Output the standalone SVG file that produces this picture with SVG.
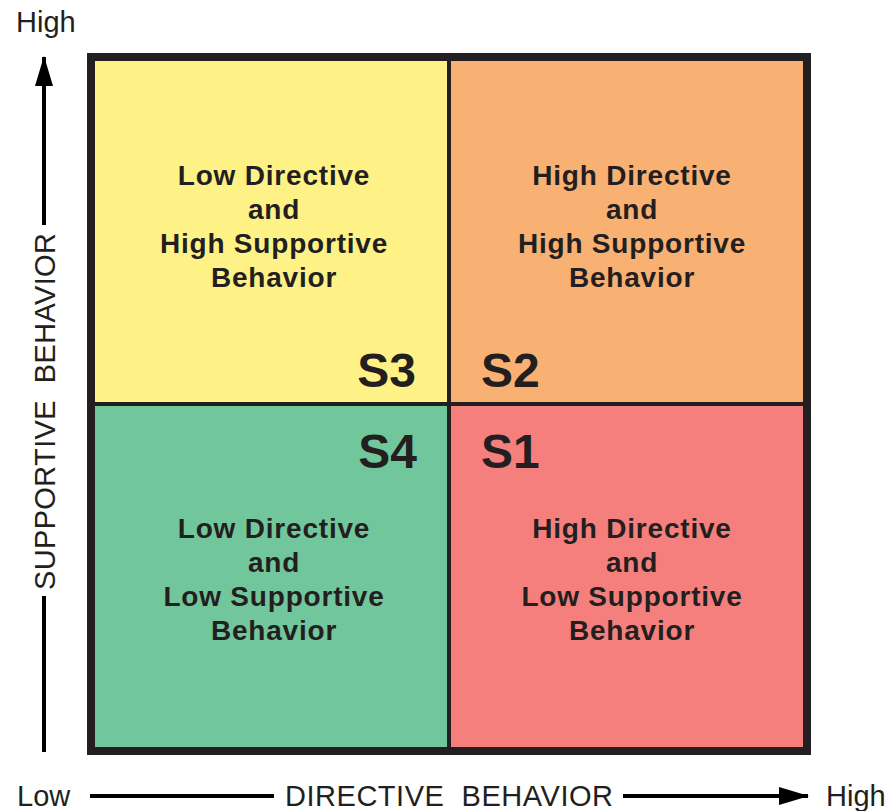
<svg xmlns="http://www.w3.org/2000/svg" width="886" height="811" viewBox="0 0 886 811">
<style>
.cell{font-family:"Liberation Sans",Arial,sans-serif;font-weight:bold;font-size:28px;fill:#231F20;text-anchor:middle;letter-spacing:0.8px}
.tag{font-family:"Liberation Sans",Arial,sans-serif;font-weight:bold;font-size:48px;fill:#231F20}
.axis{font-family:"Liberation Sans",Arial,sans-serif;font-size:29px;fill:#231F20}
.ln{stroke:#000;stroke-width:4;fill:none}
</style>
<defs>
<marker id="ah" markerWidth="30" markerHeight="18" refX="29" refY="9" orient="auto" markerUnits="userSpaceOnUse">
<path d="M0,0 L30,9 L0,18 Z" fill="#000"/>
</marker>
</defs>
<rect width="886" height="811" fill="#fff"/>
<g id="S3">
<rect x="91" y="57" width="358" height="347" fill="#FEF287"/>
<text class="cell" x="274" y="185">Low Directive</text>
<text class="cell" x="274" y="219">and</text>
<text class="cell" x="274" y="253">High Supportive</text>
<text class="cell" x="274" y="287">Behavior</text>
<text class="tag" x="416" y="387" text-anchor="end">S3</text>
</g>
<g id="S2">
<rect x="449" y="57" width="358" height="347" fill="#F9B073"/>
<text class="cell" x="632" y="185">High Directive</text>
<text class="cell" x="632" y="219">and</text>
<text class="cell" x="632" y="253">High Supportive</text>
<text class="cell" x="632" y="287">Behavior</text>
<text class="tag" x="481" y="387">S2</text>
</g>
<g id="S4">
<rect x="91" y="404" width="358" height="347" fill="#72C69B"/>
<text class="cell" x="274" y="538">Low Directive</text>
<text class="cell" x="274" y="572">and</text>
<text class="cell" x="274" y="606">Low Supportive</text>
<text class="cell" x="274" y="640">Behavior</text>
<text class="tag" x="417" y="468" text-anchor="end">S4</text>
</g>
<g id="S1">
<rect x="449" y="404" width="358" height="347" fill="#F47F7D"/>
<text class="cell" x="632" y="538">High Directive</text>
<text class="cell" x="632" y="572">and</text>
<text class="cell" x="632" y="606">Low Supportive</text>
<text class="cell" x="632" y="640">Behavior</text>
<text class="tag" x="481" y="468">S1</text>
</g>
<g id="frame" fill="none" stroke="#231F20">
<rect x="91" y="57" width="716" height="694" stroke-width="8"/>
<line x1="449" y1="57" x2="449" y2="751" stroke-width="4"/>
<line x1="91" y1="404" x2="807" y2="404" stroke-width="4"/>
</g>
<g id="connectors">
<line class="ln" x1="44" y1="225" x2="44" y2="57" marker-end="url(#ah)"/>
<line class="ln" x1="44" y1="596" x2="44" y2="752"/>
<line class="ln" x1="90" y1="796" x2="274" y2="796"/>
<line class="ln" x1="623" y1="796" x2="808" y2="796" marker-end="url(#ah)"/>
</g>
<g id="labels">
<text class="axis" x="16" y="32">High</text>
<text class="axis" x="17" y="806">Low</text>
<text class="axis" x="826" y="806">High</text>
<text class="axis" x="285" y="806" textLength="328" lengthAdjust="spacing" xml:space="preserve" style="white-space:pre">DIRECTIVE  BEHAVIOR</text>
<text class="axis" transform="translate(55,590) rotate(-90)" x="0" y="0" textLength="357" lengthAdjust="spacing" xml:space="preserve" style="white-space:pre">SUPPORTIVE  BEHAVIOR</text>
</g>
</svg>
